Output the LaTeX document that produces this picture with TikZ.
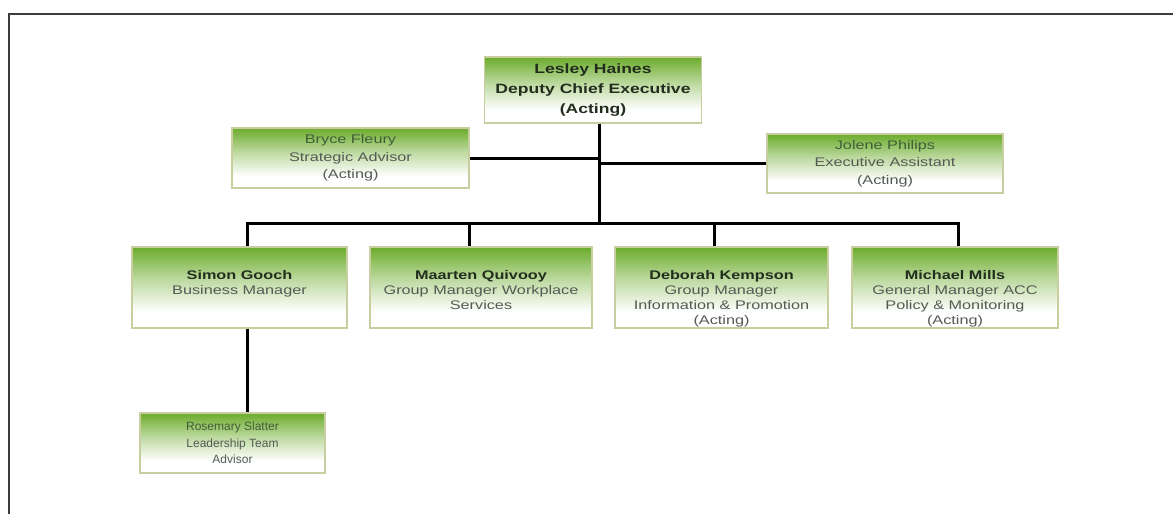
\documentclass[tikz,border=0pt]{standalone}
\usepackage{fontspec}
\setmainfont{Liberation Sans}
\newfontfamily\chartfont{Liberation Sans}[FakeStretch=1.3]
\newfontfamily\plainchart{Liberation Sans}
\usetikzlibrary{calc}
\definecolor{boxgreen}{RGB}{108,172,44}
\definecolor{boxedge}{RGB}{200,206,160}
\definecolor{namecol}{RGB}{35,45,30}
\definecolor{subcol}{RGB}{85,90,85}
\definecolor{softname}{RGB}{65,95,55}
\definecolor{framecol}{RGB}{60,60,60}
\pgfdeclareverticalshading{greenfade}{100bp}{color(0bp)=(white); color(25bp)=(white); color(35bp)=(white); color(55bp)=(boxgreen!45!white); color(72bp)=(boxgreen!92!white); color(75bp)=(boxgreen); color(100bp)=(boxgreen)}
\begin{document}
\begin{tikzpicture}[x=1pt,y=-1pt,
  box/.style={shade, shading=greenfade, draw=boxedge, line width=1.3pt, inner sep=0pt, align=center},
  lvltwo/.style={box, minimum height=81pt},
  side/.style={box, font=\chartfont\fontsize{12.5}{17.5}\selectfont, text=subcol},
  txt/.style={anchor=north, inner sep=0pt, align=center, font=\chartfont\fontsize{12.5}{15}\selectfont, text=subcol},
  conn/.style={line width=3pt, black},
  frame/.style={line width=2pt, framecol}]
\useasboundingbox (0,0) rectangle (1173,514);
\draw[frame] (1173,13.5) -- (9,13.5) -- (9,514);

% boxes
\node[box, minimum width=217pt, minimum height=66pt, font=\chartfont\fontsize{13.5}{20}\selectfont\bfseries, text=namecol] (lesley) at (593,90) {Lesley Haines\\Deputy Chief Executive\\(Acting)};
\node[side, minimum width=237pt, minimum height=60pt] (bryce) at (350.5,158) {\textcolor{softname}{Bryce Fleury}\\Strategic Advisor\\(Acting)};
\node[side, minimum width=236pt, minimum height=59pt] (jolene) at (885,163.5) {\textcolor{softname}{Jolene Philips}\\Executive Assistant\\(Acting)};

\node[lvltwo, minimum width=215pt] (simon) at (239.5,287.5) {};
\node[lvltwo, minimum width=222pt] (maarten) at (481,287.5) {};
\node[lvltwo, minimum width=213pt] (deborah) at (721.5,287.5) {};
\node[lvltwo, minimum width=206pt] (michael) at (955,287.5) {};

\node[txt] (simon-t) at (239.5,270.5) {\textcolor{namecol}{\bfseries Simon Gooch}\\Business Manager};
\node[txt] (maarten-t) at (481,270.5) {\textcolor{namecol}{\bfseries Maarten Quivooy}\\Group Manager Workplace\\Services};
\node[txt] (deborah-t) at (721.5,270.5) {\textcolor{namecol}{\bfseries Deborah Kempson}\\Group Manager\\Information \& Promotion\\(Acting)};
\node[txt] (michael-t) at (955,270.5) {\textcolor{namecol}{\bfseries Michael Mills}\\General Manager ACC\\Policy \& Monitoring\\(Acting)};

\node[box, minimum width=185pt, minimum height=60pt, font=\plainchart\fontsize{12}{16.5}\selectfont, text=subcol] (rosemary) at (232.5,443) {\textcolor{softname}{Rosemary Slatter}\\Leadership Team\\Advisor};

% connectors
\coordinate (trunk) at (599,223);
\coordinate (busL) at (247,223);
\coordinate (busR) at (958,223);
\coordinate (dropB) at (469,223);
\coordinate (dropC) at (714,223);
\draw[conn] (lesley.south -| trunk) -- (trunk);
\draw[conn] (bryce.east) -- (bryce.east -| trunk);
\draw[conn] (jolene.west) -- (jolene.west -| trunk);
\draw[conn] (simon.north -| busL) -- (busL) -- (busR) -- (michael.north -| busR);
\draw[conn] (dropB) -- (dropB |- maarten.north);
\draw[conn] (dropC) -- (dropC |- deborah.north);
\draw[conn] (simon.south -| busL) -- (rosemary.north -| busL);
\end{tikzpicture}
\end{document}
